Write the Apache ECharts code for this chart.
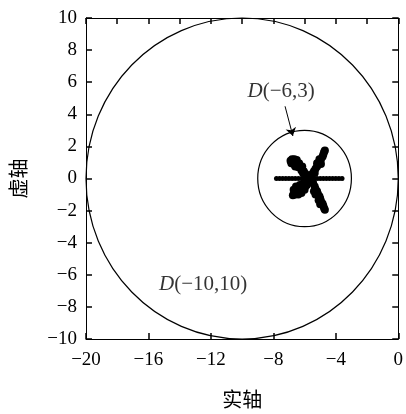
<!DOCTYPE html>
<html>
<head>
<meta charset="utf-8">
<script src="https://cdn.jsdelivr.net/npm/echarts@6/dist/echarts.min.js"></script>
<style>
  html, body { margin: 0; padding: 0; background: #fff; }
  #chart { width: 406px; height: 414px; }
</style>
</head>
<body>
<div id="chart"></div>
<script>
// 圆域 [圆心x, 圆心y, 半径]
var circles = [
  [-10, 0, 10],
  [-6, 0, 3]
];

// 实轴上的点
var realAxisPts = [
  [-7.8, 0], [-7.6, 0], [-7.4, 0], [-7.2, 0], [-7.0, 0], [-6.8, 0], [-6.6, 0], [-6.4, 0],
  [-6.2, 0], [-6.0, 0], [-5.8, 0], [-5.6, 0], [-5.4, 0], [-5.2, 0], [-5.0, 0], [-4.8, 0],
  [-4.6, 0], [-4.4, 0], [-4.2, 0], [-4.0, 0], [-3.8, 0], [-3.6, 0]
];

// 复数根
var complexPts = [
  // 左上
  [-6.9, 1.1], [-6.8, 1.2], [-6.65, 1.2], [-6.55, 1.05], [-6.85, 0.95], [-6.7, 0.9],
  [-6.5, 0.85], [-6.35, 0.95], [-6.4, 0.7], [-6.25, 0.65], [-6.15, 0.75], [-6.2, 0.5],
  [-6.05, 0.45], [-5.95, 0.3], [-5.85, 0.2], [-5.8, 0.1], [-6.6, 0.75], [-6.5, 1.15],
  [-6.75, 1.05], [-6.1, 0.35],
  // 左下
  [-5.7, -0.1], [-5.85, -0.2], [-6.0, -0.3], [-6.15, -0.35], [-6.3, -0.4], [-6.1, -0.55],
  [-6.35, -0.6], [-6.5, -0.65], [-6.25, -0.75], [-6.45, -0.85], [-6.65, -0.85], [-6.6, -1.0],
  [-6.75, -1.05], [-6.4, -1.0], [-5.95, -0.5], [-5.85, -0.4], [-6.55, -0.5], [-6.2, -0.9],
  [-6.0, -0.7], [-6.7, -0.7],
  // 右上
  [-5.6, 0.1], [-5.5, 0.3], [-5.4, 0.45], [-5.3, 0.6], [-5.2, 0.75], [-5.1, 0.9],
  [-5.0, 1.05], [-4.95, 1.2], [-4.85, 1.35], [-4.8, 1.5], [-4.75, 1.65], [-4.7, 1.75],
  [-5.2, 0.95], [-5.05, 1.2], [-4.95, 0.9], [-5.35, 0.35],
  // 右下
  [-5.55, -0.15], [-5.45, -0.3], [-5.35, -0.5], [-5.3, -0.65], [-5.2, -0.8], [-5.15, -0.95],
  [-5.05, -1.1], [-5.0, -1.25], [-4.95, -1.4], [-4.85, -1.55], [-4.8, -1.7], [-4.75, -1.85],
  [-4.7, -1.95], [-5.3, -1.0], [-5.1, -1.35], [-5.0, -1.6], [-5.4, -0.8]
];

// 标注
var notes = [
  { name: 'D(−6,3)', text: '{i|D}(−6,3)', pos: [-7.5, 5.4] },
  { name: 'D(−10,10)', text: '{i|D}(−10,10)', pos: [-12.5, -6.6] }
];
var arrow = [[-7.25, 4.5], [-6.75, 2.65]];

var serif = 'Liberation Serif';
var cjk = 'Noto Sans CJK SC';

function axisLine() {
  return { show: true, onZero: false, lineStyle: { color: '#000', width: 1 } };
}
function tickIn() {
  return { show: true, inside: true, length: 6, lineStyle: { color: '#000', width: 1.5 } };
}
function tickLabel(margin) {
  return {
    color: '#000', fontFamily: serif, fontSize: 19, margin: margin,
    formatter: function (v) { return String(v).replace('-', '−'); }
  };
}

var option = {
  backgroundColor: '#fff',
  animation: false,
  grid: { left: 78, right: 3, top: 18, bottom: 72 },
  xAxis: [
    {
      type: 'value', min: -20, max: 0, interval: 4, position: 'bottom',
      axisLine: axisLine(), axisTick: tickIn(), splitLine: { show: false },
      axisLabel: tickLabel(12),
      name: '实轴', nameLocation: 'middle', nameGap: 50,
      nameTextStyle: { color: '#000', fontFamily: cjk, fontSize: 20 }
    },
    {
      type: 'value', min: -20, max: 0, interval: 2, position: 'top',
      axisLine: axisLine(), axisTick: tickIn(), splitLine: { show: false },
      axisLabel: { show: false }
    }
  ],
  yAxis: [
    {
      type: 'value', min: -10, max: 10, interval: 2, position: 'left',
      axisLine: axisLine(), axisTick: tickIn(), splitLine: { show: false },
      axisLabel: tickLabel(9),
      name: '虚轴', nameLocation: 'middle', nameGap: 58, nameRotate: 90,
      nameTextStyle: { color: '#000', fontFamily: cjk, fontSize: 20 }
    },
    {
      type: 'value', min: -10, max: 10, interval: 2, position: 'right',
      axisLine: axisLine(), axisTick: tickIn(), splitLine: { show: false },
      axisLabel: { show: false }
    }
  ],
  series: [
    {
      type: 'custom',
      data: circles,
      silent: true,
      renderItem: function (params, api) {
        var c = api.coord([api.value(0), api.value(1)]);
        var s = api.size([api.value(2), api.value(2)]);
        return {
          type: 'ellipse',
          shape: { cx: c[0], cy: c[1], rx: s[0], ry: s[1] },
          style: { fill: 'none', stroke: '#000', lineWidth: 1.2 }
        };
      }
    },
    {
      type: 'scatter',
      data: realAxisPts,
      symbol: 'circle',
      symbolSize: 5,
      itemStyle: { color: '#000', opacity: 1 }
    },
    {
      type: 'scatter',
      data: complexPts,
      symbol: 'circle',
      symbolSize: 8,
      itemStyle: { color: '#000', opacity: 1 }
    },
    {
      type: 'lines',
      coordinateSystem: 'cartesian2d',
      data: [{ coords: arrow }],
      symbol: ['none', 'arrow'],
      symbolSize: 8,
      lineStyle: { color: '#000', width: 1, opacity: 1 }
    },
    {
      type: 'scatter',
      symbolSize: 0,
      data: notes.map(function (n) { return { name: n.name, value: n.pos, text: n.text }; }),
      label: {
        show: true,
        position: 'inside',
        color: '#000',
        fontFamily: serif,
        fontSize: 21,
        formatter: function (p) { return p.data.text; },
        rich: {
          i: { fontStyle: 'italic', fontFamily: serif, fontSize: 21, color: '#000' }
        }
      }
    }
  ]
};

var chart = echarts.init(document.getElementById('chart'));
chart.setOption(option);
</script>
</body>
</html>
